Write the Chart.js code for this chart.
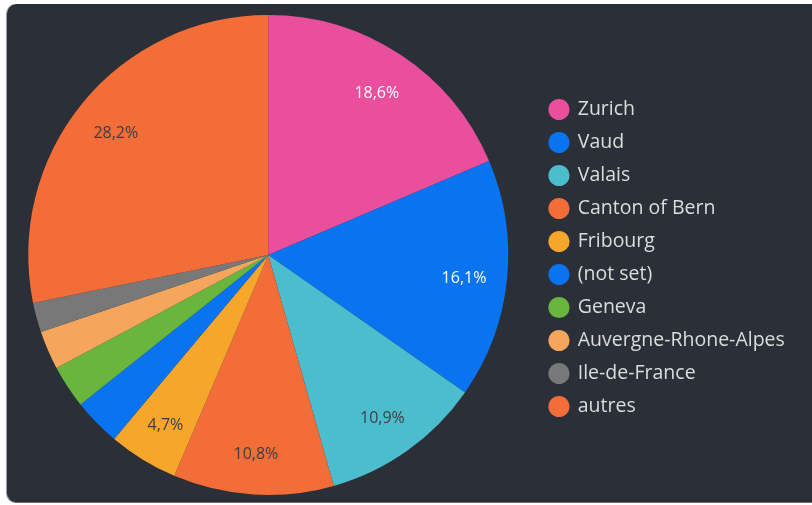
<!DOCTYPE html>
<html>
<head>
<meta charset="utf-8">
<script src="https://cdn.jsdelivr.net/npm/chart.js@4/dist/chart.umd.min.js"></script>
<style>
  html, body { margin: 0; padding: 0; background: #ffffff; width: 812px; height: 505px; overflow: hidden; }
  #panel { position: absolute; left: 6px; top: 4px; width: 830px; height: 498px; background: #2b2f38; border-radius: 10px; border-left: 1px solid #9a9ca0; border-bottom: 1px solid #6a6c70; }
  #c { position: absolute; left: 0; top: 0; }
</style>
</head>
<body>
<div id="panel"></div>
<canvas id="c" width="812" height="505"></canvas>
<script>
const categories = ["Zurich", "Vaud", "Valais", "Canton of Bern", "Fribourg", "(not set)", "Geneva", "Auvergne-Rhone-Alpes", "Ile-de-France", "autres"];
const shares = [18.6, 16.1, 10.9, 10.8, 4.7, 3.2, 2.9, 2.6, 2.0, 28.2];
const sliceColors = ["#ea4f9d", "#0a73f0", "#4cbdcc", "#f26d38", "#f5a62b", "#0a73f0", "#69b53e", "#f5a65c", "#787878", "#f26d38"];
const labelColors = ["#ffffff", "#ffffff", "#3b3f45", "#3b3f45", "#3b3f45", "#3b3f45", "#3b3f45", "#3b3f45", "#3b3f45", "#3b3f45"];

const legendWidthPlugin = {
  id: 'legendWidth',
  afterInit(chart) {
    const lg = chart.legend;
    const f = lg.fit;
    lg.fit = function () { f.call(this); this.width = 812 - 536.5; };
  },
  afterLayout(chart) {
    const lg = chart.legend;
    lg.top += 3;
    lg.bottom += 3;
  }
};

const sliceLabelPlugin = {
  id: 'sliceLabels',
  afterDatasetsDraw(chart) {
    const ctx = chart.ctx;
    const meta = chart.getDatasetMeta(0);
    ctx.save();
    ctx.font = '16px "Open Sans"';
    ctx.textAlign = 'center';
    ctx.textBaseline = 'middle';
    meta.data.forEach((arc, i) => {
      const v = shares[i];
      if (v < 4) return;
      const p = arc.getProps(['x', 'y', 'startAngle', 'endAngle', 'outerRadius'], true);
      const mid = (p.startAngle + p.endAngle) / 2;
      const r = p.outerRadius * 0.82;
      ctx.fillStyle = labelColors[i];
      ctx.fillText(v.toFixed(1).replace('.', ',') + '%', p.x + Math.cos(mid) * r, p.y + Math.sin(mid) * r + 3);
    });
    ctx.restore();
  }
};

new Chart(document.getElementById('c'), {
  type: 'pie',
  data: {
    labels: categories,
    datasets: [{
      data: shares,
      backgroundColor: sliceColors,
      borderWidth: 0
    }]
  },
  options: {
    responsive: false,
    animation: false,
    devicePixelRatio: 1,
    layout: { padding: { top: 15, bottom: 10, left: 0, right: 0 } },
    plugins: {
      tooltip: { enabled: false },
      legend: {
        position: 'right',
        labels: {
          usePointStyle: true,
          pointStyle: 'circle',
          boxWidth: 18,
          boxHeight: 15,
          padding: 13.5,
          color: '#dcdcdc',
          font: { family: '"Open Sans"', size: 19.5 }
        }
      }
    }
  },
  plugins: [legendWidthPlugin, sliceLabelPlugin]
});
</script>
</body>
</html>
